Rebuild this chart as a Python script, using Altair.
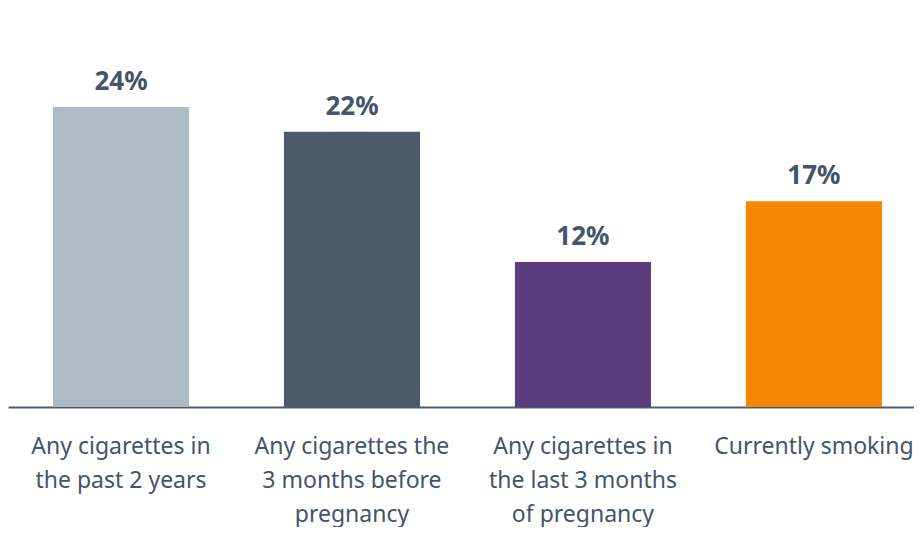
import altair as alt
import pandas as pd

categories = [
    "Any cigarettes in|the past 2 years",
    "Any cigarettes the|3 months before|pregnancy",
    "Any cigarettes in|the last 3 months|of pregnancy",
    "Currently smoking",
]
values = [24.2, 22.2, 11.7, 16.6]
value_labels = ["24%", "22%", "12%", "17%"]
colors = ["#adb9c5", "#4a5a6b", "#5b3c7f", "#f38800"]

df = pd.DataFrame({"cat": categories, "value": values, "label": value_labels})

FONT = "Noto Sans"
TEXT_COLOR = "#44546a"

x = alt.X(
    "cat:N",
    sort=categories,
    scale=alt.Scale(paddingInner=0.411, paddingOuter=0.1667, align=0.584),
    axis=alt.Axis(
        title=None,
        labelAngle=0,
        labelFont=FONT,
        labelFontSize=23,
        labelColor=TEXT_COLOR,
        labelLineHeight=34,
        labelBaseline="alphabetic",
        labelPadding=46,
        labelLimit=0,
        labelOverlap=False,
        ticks=False,
        tickSize=0,
        domainColor="#4d5d6e",
        domainWidth=2,
        labelExpr="split(datum.label, '|')",
    ),
)
y = alt.Y("value:Q", scale=alt.Scale(domain=[0, 32.19], nice=False), axis=None)

base = alt.Chart(df)
bars = base.mark_bar().encode(
    x=x,
    y=y,
    color=alt.Color("cat:N", sort=categories, scale=alt.Scale(domain=categories, range=colors), legend=None),
)
text = base.mark_text(
    dy=-17, baseline="alphabetic", fontSize=26, fontWeight="bold", font=FONT, color=TEXT_COLOR
).encode(x=alt.X("cat:N", sort=categories), y=y, text="label:N")

chart = (
    alt.layer(bars, text)
    .properties(
        width=906,
        height=399,
        autosize=alt.AutoSizeParams(type="none"),
        padding={"left": 0, "top": 0, "right": 0, "bottom": 120},
    )
    .configure_view(stroke=None)
)

chart.save("out.html", embed_options={"renderer": "svg", "actions": False})
